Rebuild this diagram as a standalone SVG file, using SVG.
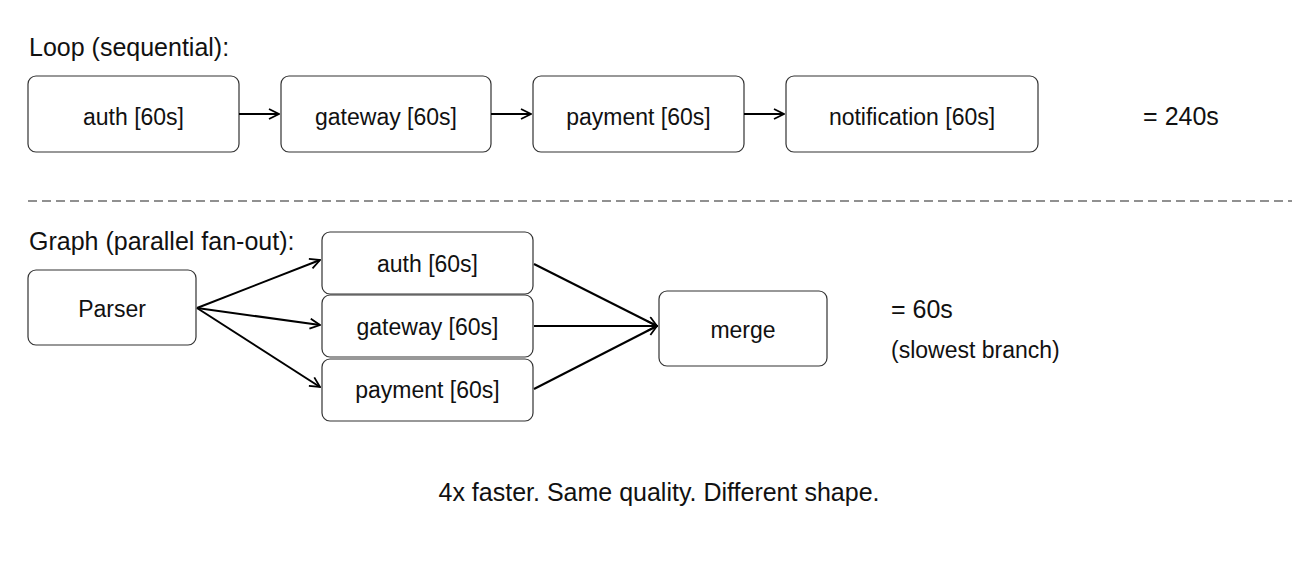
<svg xmlns="http://www.w3.org/2000/svg" width="1314" height="561" viewBox="0 0 1314 561">
<style>
text{font-family:"Liberation Sans",Arial,sans-serif;fill:#111;}
.lbl{font-size:25px;}
.node rect{fill:#fff;stroke:#333;stroke-width:1.2;}
.node text{font-size:23px;text-anchor:middle;}
.edge{stroke:#000;stroke-width:2;fill:none;marker-end:url(#arr);}
</style>
<defs>
<marker id="arr" viewBox="0 0 12 12" refX="11" refY="6" markerWidth="12" markerHeight="12" markerUnits="userSpaceOnUse" orient="auto">
<path d="M1,1 L11,6 L1,11" fill="none" stroke="#000" stroke-width="1.8"/>
</marker>
</defs>
<rect width="1314" height="561" fill="#fff"/>
<text class="lbl" x="29" y="56">Loop (sequential):</text>
<g id="loop-auth" class="node"><rect x="28" y="76" width="211" height="76" rx="8"/><text x="133.5" y="125">auth [60s]</text></g>
<g id="loop-gateway" class="node"><rect x="281" y="76" width="210" height="76" rx="8"/><text x="386" y="125">gateway [60s]</text></g>
<g id="loop-payment" class="node"><rect x="533" y="76" width="211" height="76" rx="8"/><text x="638.5" y="125">payment [60s]</text></g>
<g id="loop-notification" class="node"><rect x="786" y="76" width="252" height="76" rx="8"/><text x="912" y="125">notification [60s]</text></g>
<text class="lbl" x="1181" y="125" text-anchor="middle">= 240s</text>
<line x1="28" y1="201" x2="1292" y2="201" stroke="#222" stroke-width="1.2" stroke-dasharray="9,5"/>
<text class="lbl" x="29" y="250">Graph (parallel fan-out):</text>
<g id="parser" class="node"><rect x="28" y="270" width="168" height="75" rx="8"/><text x="112" y="317">Parser</text></g>
<g id="graph-auth" class="node"><rect x="322" y="232" width="211" height="62" rx="8"/><text x="427.5" y="272">auth [60s]</text></g>
<g id="graph-gateway" class="node"><rect x="322" y="295" width="211" height="62" rx="8"/><text x="427.5" y="335">gateway [60s]</text></g>
<g id="graph-payment" class="node"><rect x="322" y="359" width="211" height="62" rx="8"/><text x="427.5" y="398">payment [60s]</text></g>
<g id="merge" class="node"><rect x="659" y="291" width="168" height="75" rx="8"/><text x="743" y="338">merge</text></g>
<text class="lbl" x="891" y="318">= 60s</text>
<text x="891" y="358" style="font-size:23px">(slowest branch)</text>
<g id="connectors">
<line class="edge" x1="239" y1="114" x2="279" y2="114"/>
<line class="edge" x1="491" y1="114" x2="531" y2="114"/>
<line class="edge" x1="744" y1="114" x2="784" y2="114"/>
<line class="edge" x1="197" y1="308" x2="320" y2="260"/>
<line class="edge" x1="197" y1="308" x2="320" y2="325"/>
<line class="edge" x1="197" y1="308" x2="320" y2="387"/>
<line class="edge" x1="534" y1="264" x2="657" y2="326"/>
<line class="edge" x1="534" y1="326" x2="657" y2="326"/>
<line class="edge" x1="534" y1="389" x2="657" y2="326"/>
</g>
<text x="659" y="501" text-anchor="middle" style="font-size:25px">4x faster. Same quality. Different shape.</text>
</svg>
